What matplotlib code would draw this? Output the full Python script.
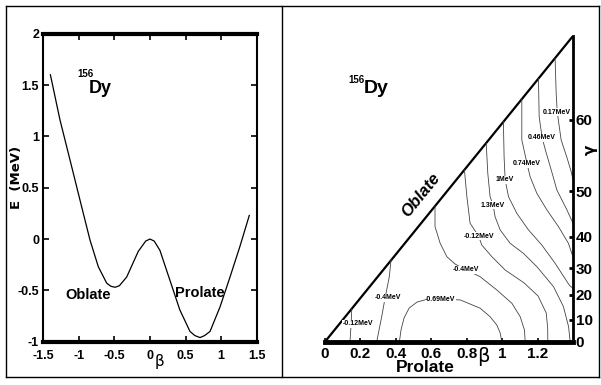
import numpy as np
import matplotlib.pyplot as plt
from matplotlib.lines import Line2D

plt.rcParams['font.family'] = ['Liberation Sans', 'DejaVu Sans']
plt.rcParams['font.weight'] = 'bold'

# left panel: E(beta) curve
beta = [-1.4, -1.265, -1.124, -0.984, -0.843, -0.726, -0.608, -0.55, -0.49, -0.43, -0.327,
        -0.164, -0.06, 0.0, 0.06, 0.14, 0.28, 0.42, 0.563, 0.63, 0.704, 0.77, 0.845, 0.986,
        1.126, 1.266, 1.397]
energy = [1.6, 1.16, 0.77, 0.38, -0.01, -0.27, -0.43, -0.46, -0.47, -0.455, -0.37,
          -0.12, -0.02, 0.0, -0.02, -0.11, -0.40, -0.69, -0.90, -0.94, -0.96, -0.94, -0.90, -0.66,
          -0.37, -0.07, 0.23]
left_xticks = [-1.5, -1, -0.5, 0, 0.5, 1, 1.5]
left_xlabels = ['-1.5', '-1', '-0.5', '0', '0.5', '1', '1.5']
left_yticks = [-1, -0.5, 0, 0.5, 1, 1.5, 2]
left_ylabels = ['-1', '-0.5', '0', '0.5', '1', '1.5', '2']

# right panel: contour lines traced in (x, y) of the triangle
c_neg012_a = ([0.151, 0.147, 0.141], [0.185, 0.094, 0.0])
c_neg04_a = ([0.373, 0.363, 0.339, 0.320, 0.305, 0.292], [0.466, 0.367, 0.247, 0.141, 0.066, 0.0])
c_neg069 = ([0.420, 0.429, 0.446, 0.475, 0.520, 0.582, 0.650, 0.763, 0.802, 0.876, 0.932, 0.970, 0.989, 0.998],
            [0.0, 0.066, 0.134, 0.190, 0.224, 0.241, 0.240, 0.236, 0.220, 0.189, 0.141, 0.094, 0.049, 0.0])
c_neg04_b = ([0.621, 0.621, 0.650, 0.688, 0.734, 0.797, 0.876, 0.970, 1.055, 1.102, 1.126, 1.130],
             [0.767, 0.650, 0.556, 0.480, 0.439, 0.405, 0.367, 0.292, 0.217, 0.141, 0.066, 0.0])
c_neg012_b = ([0.787, 0.801, 0.819, 0.867, 0.885, 0.942, 1.017, 1.124, 1.203, 1.249, 1.257, 1.258],
              [0.970, 0.819, 0.669, 0.597, 0.546, 0.480, 0.405, 0.332, 0.258, 0.162, 0.077, 0.0])
c_13 = ([0.910, 0.919, 0.932, 0.949, 0.960, 0.989, 1.045, 1.120, 1.196, 1.290, 1.346, 1.375, 1.384],
        [1.121, 0.951, 0.819, 0.772, 0.706, 0.631, 0.556, 0.499, 0.424, 0.311, 0.198, 0.085, 0.0])
c_1 = ([1.007, 1.011, 1.017, 1.036, 1.083, 1.149, 1.224, 1.299, 1.356, 1.38, 1.4],
       [1.243, 1.045, 0.914, 0.819, 0.725, 0.631, 0.546, 0.443, 0.355, 0.318, 0.302])
c_074 = ([1.111, 1.111, 1.141, 1.158, 1.196, 1.253, 1.318, 1.374, 1.4],
         [1.371, 1.140, 1.004, 0.932, 0.838, 0.744, 0.650, 0.556, 0.479])
c_046 = ([1.205, 1.209, 1.226, 1.245, 1.28, 1.309, 1.366, 1.4],
         [1.487, 1.271, 1.151, 1.08, 0.96, 0.857, 0.744, 0.669])
c_017 = ([1.299, 1.305, 1.311, 1.333, 1.366, 1.39, 1.4],
         [1.603, 1.403, 1.297, 1.14, 1.04, 0.96, 0.914])
contours = [c_neg012_a, c_neg04_a, c_neg069, c_neg04_b, c_neg012_b, c_13, c_1, c_074, c_046, c_017]

label_text = ['-0.12MeV', '-0.4MeV', '-0.69MeV', '-0.4MeV', '-0.12MeV',
              '1.3MeV', '1MeV', '0.74MeV', '0.46MeV', '0.17MeV']
label_x = [0.186, 0.356, 0.650, 0.797, 0.867, 0.949, 1.017, 1.141, 1.226, 1.311]
label_y = [0.100, 0.247, 0.236, 0.405, 0.597, 0.772, 0.914, 1.004, 1.151, 1.297]

right_xticks = [0, 0.2, 0.4, 0.6, 0.8, 1.0, 1.2]
right_xlabels = ['0', '0.2', '0.4', '0.6', '0.8', '1', '1.2']
gamma_ticks = [0, 0.123, 0.264, 0.416, 0.593, 0.851, 1.253]
gamma_labels = ['0', '10', '20', '30', '40', '50', '60']
tri_x = [0, 1.4]
tri_y = [0, 1.727]

fig = plt.figure(figsize=(6.01, 3.85), dpi=100)

# frame of the table around the two panels
for xs, ys in [([0.010, 0.997], [0.984, 0.984]), ([0.010, 0.997], [0.021, 0.021]),
               ([0.010, 0.010], [0.021, 0.984]), ([0.469, 0.469], [0.021, 0.984]),
               ([0.997, 0.997], [0.021, 0.984])]:
    fig.add_artist(Line2D(xs, ys, color='black', lw=1.0))

# ---- left panel
ax1 = fig.add_axes([0.072, 0.1125, 0.355, 0.80])
ax1.plot(beta, energy, color='black', lw=0.9)
ax1.set_xlim(-1.5, 1.5)
ax1.set_ylim(-1, 2)
ax1.set_xticks(left_xticks)
ax1.set_xticklabels(left_xlabels)
ax1.set_yticks(left_yticks)
ax1.set_yticklabels(left_ylabels)
ax1.tick_params(direction='in', top=True, right=True, length=4, width=1.2, labelsize=9)
ax1.tick_params(axis='x', pad=6)
ax1.tick_params(axis='y', pad=3)
for s in ['top', 'bottom']:
    ax1.spines[s].set_linewidth(3)
for s in ['left', 'right']:
    ax1.spines[s].set_linewidth(1.5)
ax1.text(-0.91, 1.61, '156', fontsize=7, ha='center', va='center')
ax1.text(-0.70, 1.47, 'Dy', fontsize=13, ha='center', va='center')
ax1.text(-0.87, -0.545, 'Oblate', fontsize=10.5, ha='center', va='center')
ax1.text(0.70, -0.53, 'Prolate', fontsize=10.5, ha='center', va='center')
ax1.text(0.13, -0.065, 'β', transform=ax1.get_xaxis_transform(), fontsize=11,
         fontweight='normal', family='DejaVu Sans', ha='center', va='center')
fig.text(0.028, 0.54, 'E  (MeV)', rotation=90, fontsize=9.5, ha='center', va='center',
         family='DejaVu Sans', fontweight='bold')

# ---- right panel
ax2 = fig.add_axes([0.5408, 0.1125, 0.4126, 0.794])
ax2.plot(tri_x, tri_y, color='black', lw=1.6, solid_capstyle='round')
for cx, cy in contours:
    ax2.plot(cx, cy, color='#444444', lw=0.6)
for t, lx, ly in zip(label_text, label_x, label_y):
    ax2.text(lx, ly, t, fontsize=5, ha='center', va='center',
             bbox=dict(facecolor='white', edgecolor='none', pad=0.3))
ax2.set_xlim(0, 1.4)
ax2.set_ylim(0, 1.727)
ax2.spines['top'].set_visible(False)
ax2.spines['left'].set_visible(False)
ax2.spines['bottom'].set_linewidth(3.5)
ax2.spines['right'].set_linewidth(2)
ax2.set_xticks(right_xticks)
ax2.set_xticklabels(right_xlabels)
ax2.yaxis.tick_right()
ax2.set_yticks(gamma_ticks)
ax2.set_yticklabels(gamma_labels)
ax2.tick_params(axis='x', direction='in', length=3, width=1.2, labelsize=11, pad=4)
ax2.tick_params(axis='y', direction='in', length=3, width=2, labelsize=11, pad=2)
ax2.text(0.18, 1.48, '156', fontsize=7, ha='center', va='center')
ax2.text(0.29, 1.432, 'Dy', fontsize=14, ha='center', va='center')
ax2.text(0.54, 0.83, 'Oblate', fontsize=12, style='italic', rotation=51,
         ha='center', va='center')
ax2.text(0.565, -0.086, 'Prolate', transform=ax2.get_xaxis_transform(), fontsize=12.5,
         ha='center', va='center')
ax2.text(0.895, -0.05, 'β', transform=ax2.get_xaxis_transform(), fontsize=14,
         fontweight='normal', family='DejaVu Sans', ha='center', va='center')
fig.text(0.982, 0.61, 'γ', rotation=90, fontsize=11, family='DejaVu Sans',
         ha='center', va='center')

fig.savefig('out.png', dpi=100)
